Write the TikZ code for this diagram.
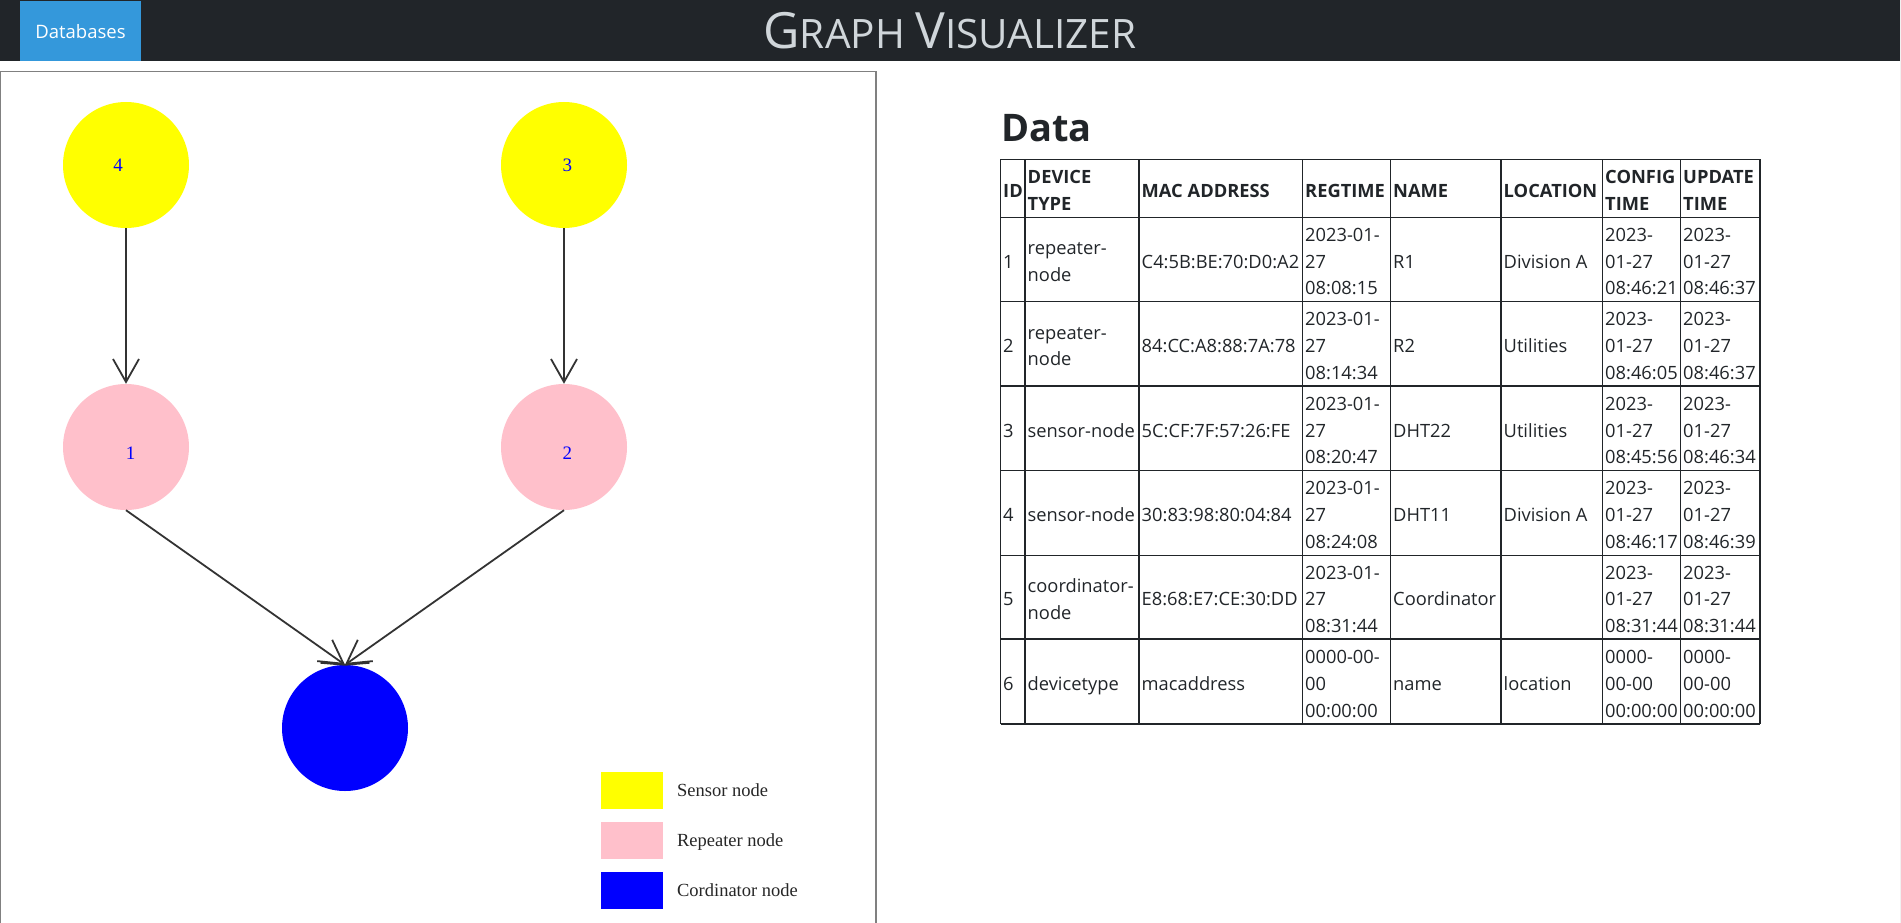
\documentclass[tikz,border=0pt]{standalone}
\usepackage{fontspec}
\usepackage{xcolor}
\usetikzlibrary{arrows.meta,positioning}
\newfontfamily\uifont{Open Sans}
\newfontfamily\svgfont{Liberation Serif}
\definecolor{navdark}{RGB}{33,37,41}
\definecolor{navblue}{RGB}{52,152,219}
\definecolor{titlegray}{RGB}{208,214,218}
\definecolor{inkdark}{RGB}{33,37,41}
\definecolor{edgegray}{RGB}{51,51,51}
\definecolor{boxgray}{RGB}{128,128,128}
\definecolor{sensoryellow}{RGB}{255,255,0}
\definecolor{repeaterpink}{RGB}{255,192,203}
\definecolor{coordblue}{RGB}{0,0,255}
\definecolor{scrollgray}{RGB}{241,241,241}
\newcommand\cs{\rule[-4.4pt]{0pt}{26.4pt}}
\newcommand\nl{\\\cs}
\newcommand\tsc[2]{{\fontsize{50}{50}\selectfont#1}{\fontsize{40.5}{50}\selectfont#2}}
\newcommand\trow[8]{%
	\pgfmathsetmacro\rowy{259.4+(#1-1)*84.42}%
	\node[cell] (r#1id) at (1003,\rowy) {\cs#1};
	\node[cell] (r#1type) at (1027.5,\rowy) {\cs#2};
	\node[cell] (r#1mac) at (1141.5,\rowy) {\cs#3};
	\node[cell] (r#1reg) at (1305,\rowy) {\cs#4};
	\node[cell] (r#1name) at (1393,\rowy) {\cs#5};
	\node[cell] (r#1loc) at (1503.5,\rowy) {\cs#6};
	\node[cell] (r#1cfg) at (1605,\rowy) {\cs#7};
	\node[cell] (r#1upd) at (1683,\rowy) {\cs#8};}
\begin{document}
\begin{tikzpicture}[x=1pt,y=-1pt,
		cell/.style={anchor=west,inner sep=0pt,align=left,text=inkdark,font=\uifont\fontsize{18.3}{26.7}\selectfont},
		headcell/.style={cell,font=\uifont\bfseries\fontsize{18.3}{26.7}\selectfont},
		gridline/.style={draw=inkdark,line width=1.2pt,line cap=square},
		sensor/.style={circle,minimum size=126pt,inner sep=0pt,fill=sensoryellow},
		repeater/.style={sensor,fill=repeaterpink},
		coordinator/.style={sensor,fill=coordblue},
		nodeid/.style={inner sep=0pt,text=coordblue,font=\svgfont\fontsize{19}{19}\selectfont},
		edge/.style={draw=edgegray,line width=1.8pt,-{Straight Barb[length=23pt,width=26pt]}},
		keybox/.style={minimum width=62.6pt,minimum height=37.3pt,inner sep=0pt},
		keytext/.style={inner sep=0pt,text height=12.2pt,text depth=0pt,text=black!85,font=\svgfont\fontsize{18.5}{18.5}\selectfont}]
	\useasboundingbox (0,0) rectangle (1901,923);
	\fill[navdark] (0,0) rectangle (1899.5,61);
	\fill[scrollgray] (1899.5,0) rectangle (1901,923);
	\node[fill=navblue,minimum width=121pt,minimum height=60pt,inner sep=0pt,text height=16pt,text depth=0pt,text=white,font=\uifont\fontsize{18.5}{18.5}\selectfont] (dbbutton) at (80.5,31) {Databases};
	\node[anchor=base,inner sep=0pt,text=titlegray,font=\uifont\fontsize{40.5}{50}\selectfont] (title) at (950,49) {\tsc{G}{RAPH} \tsc{V}{ISUALIZER}};
	\draw[boxgray,line width=1.3pt] (0.65,925) |- (876,71.3) -- (876,925);
	\node[sensor] (n4) at (126,165) {};
	\node[sensor] (n3) at (564,165) {};
	\node[repeater] (n1) at (126,447) {};
	\node[repeater] (n2) at (564,447) {};
	\node[coordinator] (n5) at (345,728) {};
	\node[nodeid] (l4) at ([xshift=-8pt]n4.center) {4};
	\node[nodeid] (l3) at ([xshift=3.3pt]n3.center) {3};
	\node[nodeid] (l1) at ([xshift=4.5pt,yshift=-6.5pt]n1.center) {1};
	\node[nodeid] (l2) at ([xshift=3.3pt,yshift=-6.5pt]n2.center) {2};
	\draw[edge] (n4.south) -- (n1.north);
	\draw[edge] (n3.south) -- (n2.north);
	\draw[edge] (n1.south) -- (n5.north);
	\draw[edge] (n2.south) -- (n5.north);
	\draw[draw=edgegray,line width=1.8pt] ([xshift=-24.5pt,yshift=2pt]n5.north) -- (n5.north) -- ([xshift=24.5pt,yshift=2pt]n5.north);
	\node[keybox,fill=sensoryellow] (kSensor) at (632,790.7) {};
	\node[keybox,fill=repeaterpink] (kRepeater) at (632,840.5) {};
	\node[keybox,fill=coordblue] (kCoord) at (632,890.5) {};
	\node[keytext,right=13.4pt of kSensor] (tSensor) {Sensor node};
	\node[keytext,right=13.4pt of kRepeater] (tRepeater) {Repeater node};
	\node[keytext,right=13.4pt of kCoord] (tCoord) {Cordinator node};
	\node[anchor=base west,inner sep=0pt,text=inkdark,font=\uifont\bfseries\fontsize{38}{38}\selectfont] (datahead) at (1001,141.7) {Data};
	\foreach \x in {1000.5,1025,1139,1302.5,1390.5,1501,1602.5,1680.5,1760}
		\draw[gridline] (\x,159.3) -- (\x,724);
	\foreach \y in {159.3,217.3,301.5,386,470.7,555.7,639,724}
		\draw[gridline] (1000.5,\y) -- (1760,\y);
	\foreach \x/\name/\txt in {1003/hId/ID,1027.5/hType/{DEVICE\nl TYPE},1141.5/hMac/{MAC ADDRESS},1305/hReg/REGTIME,1393/hName/NAME,1503.5/hLoc/LOCATION,1605/hCfg/{CONFIG\nl TIME},1683/hUpd/{UPDATE\nl TIME}}
		\node[headcell] (\name) at (\x,188.3) {\cs\txt};
	\trow{1}{repeater-\nl node}{C4:5B:BE:70:D0:A2}{2023-01-\nl 27\nl 08:08:15}{R1}{Division A}{2023-\nl 01-27\nl 08:46:21}{2023-\nl 01-27\nl 08:46:37}
	\trow{2}{repeater-\nl node}{84:CC:A8:88:7A:78}{2023-01-\nl 27\nl 08:14:34}{R2}{Utilities}{2023-\nl 01-27\nl 08:46:05}{2023-\nl 01-27\nl 08:46:37}
	\trow{3}{sensor-node}{5C:CF:7F:57:26:FE}{2023-01-\nl 27\nl 08:20:47}{DHT22}{Utilities}{2023-\nl 01-27\nl 08:45:56}{2023-\nl 01-27\nl 08:46:34}
	\trow{4}{sensor-node}{30:83:98:80:04:84}{2023-01-\nl 27\nl 08:24:08}{DHT11}{Division A}{2023-\nl 01-27\nl 08:46:17}{2023-\nl 01-27\nl 08:46:39}
	\trow{5}{coordinator-\nl node}{E8:68:E7:CE:30:DD}{2023-01-\nl 27\nl 08:31:44}{Coordinator}{}{2023-\nl 01-27\nl 08:31:44}{2023-\nl 01-27\nl 08:31:44}
	\trow{6}{devicetype}{macaddress}{0000-00-\nl 00\nl 00:00:00}{name}{location}{0000-\nl 00-00\nl 00:00:00}{0000-\nl 00-00\nl 00:00:00}
\end{tikzpicture}
\end{document}
